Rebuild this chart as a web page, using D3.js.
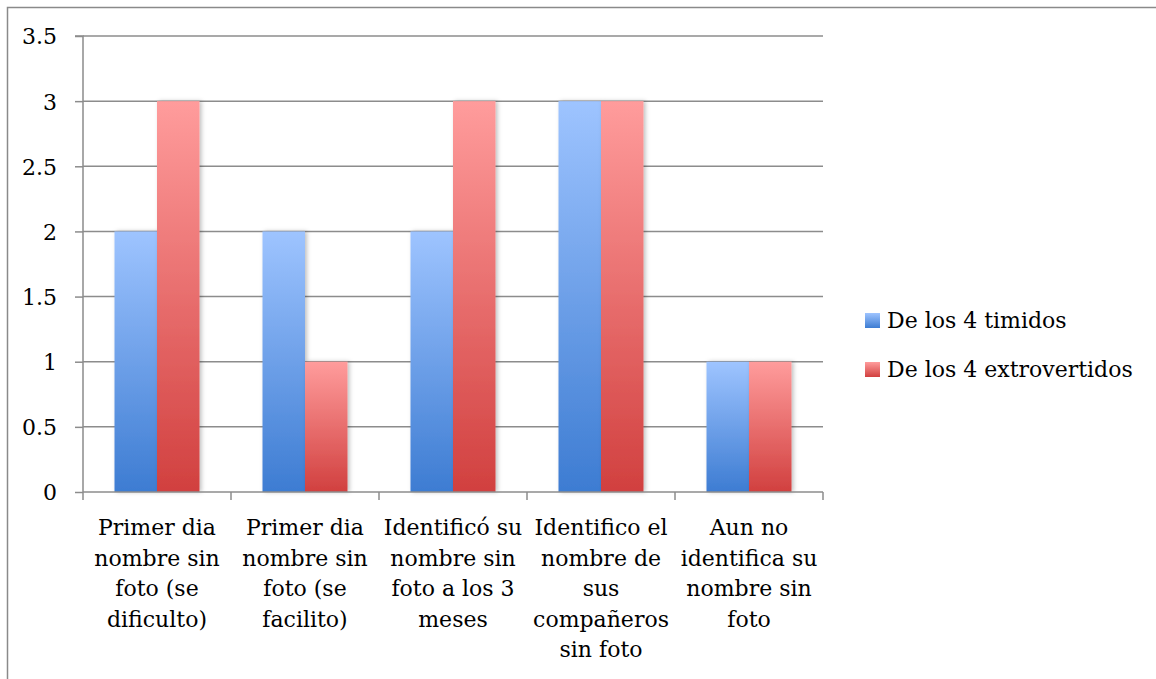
<!DOCTYPE html>
<html><head><meta charset="utf-8">
<script src="https://cdn.jsdelivr.net/npm/d3@7"></script>
<style>body{margin:0;background:#fff}svg{display:block}text{font-family:"DejaVu Serif",serif;fill:#000}</style>
</head><body>
<svg id="c" width="1156" height="679"></svg>
<script>
const categories = ["Primer dia\nnombre sin\nfoto (se\ndificulto)","Primer dia\nnombre sin\nfoto (se\nfacilito)","Identificó su\nnombre sin\nfoto a los 3\nmeses","Identifico el\nnombre de\nsus\ncompañeros\nsin foto","Aun no\nidentifica su\nnombre sin\nfoto"];
const seriesNames = ["De los 4 timidos","De los 4 extrovertidos"];
const timidos = [2,2,2,3,1];
const extrovertidos = [3,1,3,3,1];
const yTicks = [0,0.5,1,1.5,2,2.5,3,3.5];

const svg = d3.select("#c");
const defs = svg.append("defs");
const grads = [["gb","#9EC4FF","#3D7CD2"],["gr","#FF9C9C","#D1403F"]];
grads.forEach(([id,t,b])=>{
  const g = defs.append("linearGradient").attr("id",id).attr("x1",0).attr("y1",0).attr("x2",0).attr("y2",1);
  g.append("stop").attr("offset","0%").attr("stop-color",t);
  g.append("stop").attr("offset","100%").attr("stop-color",b);
});
const f = defs.append("filter").attr("id","sh").attr("x","-20%").attr("y","-5%").attr("width","150%").attr("height","110%");
f.append("feDropShadow").attr("dx",2).attr("dy",0).attr("stdDeviation",2).attr("flood-color","#000").attr("flood-opacity",0.25);

// outer frame
svg.append("rect").attr("x",7.5).attr("y",7.5).attr("width",1160).attr("height",700)
  .attr("fill","none").attr("stroke","#8a8a8a").attr("stroke-width",1.5);

const L=83, R=823, T=36, B=492;
const x = d3.scaleBand().domain(categories).range([L,R]).paddingInner(0).paddingOuter(0);
const y = d3.scaleLinear().domain([0,3.5]).range([B,T]);
const bandW = x.bandwidth();
const barW = 42.5;
const xs = d3.scaleBand().domain([0,1]).range([0,barW*2]);

// gridlines
svg.append("g").selectAll("line").data(yTicks.filter(d=>d>0)).join("line")
  .attr("x1",L).attr("x2",R).attr("y1",d=>y(d)).attr("y2",d=>y(d))
  .attr("stroke","#8c8c8c").attr("stroke-width",1.5);

// y axis
const ya = svg.append("g").attr("transform",`translate(${L},0)`)
  .call(d3.axisLeft(y).tickValues(yTicks).tickSize(8).tickPadding(18).tickFormat(d=>String(d)));
ya.select(".domain").attr("stroke","#8c8c8c").attr("stroke-width",1.5).attr("d",`M-8,${T}H0V${B}`);
ya.selectAll(".tick line").attr("stroke","#8c8c8c").attr("stroke-width",1.5);
ya.selectAll(".tick text").attr("font-size",22).attr("font-family","DejaVu Serif").attr("fill","#000").attr("dy","0.36em");

// bars
const data = categories.map((c,i)=>[{c,s:0,v:timidos[i]},{c,s:1,v:extrovertidos[i]}]).flat();
svg.append("g").selectAll("rect").data(data).join("rect")
  .attr("x",d=>x(d.c)+(bandW-barW*2)/2+xs(d.s))
  .attr("width",xs.bandwidth())
  .attr("y",d=>y(d.v)).attr("height",d=>y(0)-y(d.v))
  .attr("fill",d=>d.s===0?"url(#gb)":"url(#gr)")
  .attr("filter","url(#sh)");

// x axis
const xa = svg.append("g").attr("transform",`translate(0,${B})`);
xa.append("line").attr("x1",L).attr("x2",R).attr("stroke","#8c8c8c").attr("stroke-width",1.5);
const bounds = categories.map(c=>x(c)).concat([R]);
xa.selectAll(".tk").data(bounds).join("line").attr("class","tk")
  .attr("x1",d=>d).attr("x2",d=>d).attr("y1",0).attr("y2",8)
  .attr("stroke","#8c8c8c").attr("stroke-width",1.5);
categories.forEach(c=>{
  const t = xa.append("text").attr("text-anchor","middle").attr("font-size",22)
    .attr("x",x(c)+bandW/2).attr("y",43);
  c.split("\n").forEach((ln,i)=>{
    t.append("tspan").attr("x",x(c)+bandW/2).attr("dy",i===0?0:30.5).text(ln);
  });
});

// legend
const lg = svg.append("g");
seriesNames.forEach((n,i)=>{
  const g = lg.append("g").attr("transform",`translate(865,${313+i*49})`);
  g.append("rect").attr("width",15).attr("height",15).attr("fill",i===0?"url(#gb)":"url(#gr)");
  g.append("text").attr("x",22).attr("y",15).attr("font-size",22).text(n);
});
</script>
</body></html>
